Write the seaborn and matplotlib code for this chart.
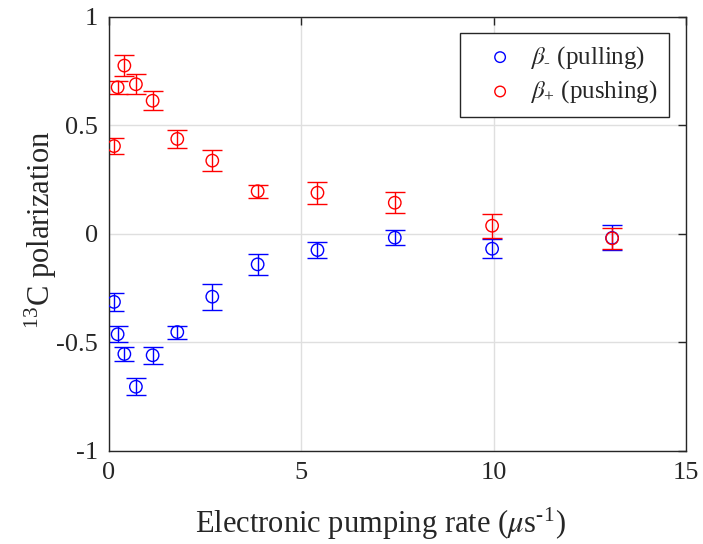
import numpy as np
import pandas as pd
import matplotlib
matplotlib.use("Agg")
import matplotlib.pyplot as plt
import seaborn as sns

# ---- data ----
rate = [0.13, 0.225, 0.40, 0.70, 1.135, 1.776, 2.686, 3.865, 5.42, 7.43, 9.96, 13.08]
pull_pol = [-0.313, -0.462, -0.553, -0.704, -0.559, -0.452, -0.289, -0.140, -0.074, -0.017, -0.068, -0.018]
pull_err = [0.041, 0.038, 0.031, 0.039, 0.038, 0.030, 0.060, 0.048, 0.038, 0.035, 0.043, 0.058]
push_pol = [0.405, 0.676, 0.776, 0.690, 0.614, 0.438, 0.338, 0.197, 0.190, 0.144, 0.038, -0.020]
push_err = [0.037, 0.031, 0.048, 0.045, 0.044, 0.043, 0.048, 0.029, 0.050, 0.048, 0.055, 0.047]
series_labels = ["$\\beta_{\\mathregular{\u2010}}$ (pulling)", "$\\beta_{\\mathregular{+}}$ (pushing)"]
series_colors = ["#0000ff", "#ff0000"]
x_ticks = [0, 5, 10, 15]
y_ticks = [-1, -0.5, 0, 0.5, 1]
y_ticklabels = ["-1", "-0.5", "0", "0.5", "1"]

df = pd.concat([
    pd.DataFrame({"rate": rate, "pol": pull_pol, "err": pull_err, "series": series_labels[0]}),
    pd.DataFrame({"rate": rate, "pol": push_pol, "err": push_err, "series": series_labels[1]}),
], ignore_index=True)

sns.set_style("white")
plt.rcParams["font.family"] = ["Liberation Serif", "DejaVu Serif"]
plt.rcParams["mathtext.fontset"] = "stix"

fig = plt.figure(figsize=(7.03, 5.44), dpi=100)
ax = fig.add_axes([0.155, 0.171, 0.8208, 0.7978])

for lab, col in zip(series_labels, series_colors):
    d = df[df["series"] == lab]
    ax.errorbar(d["rate"], d["pol"], yerr=d["err"], fmt="none", ecolor=col,
                elinewidth=1.0, capsize=7, capthick=1.0, zorder=2)
    sns.scatterplot(data=d, x="rate", y="pol", ax=ax, marker="o", s=80,
                    facecolor="none", edgecolor=col, linewidth=1.0,
                    label=lab, zorder=3)

ax.set_xlim(0, 15)
ax.set_ylim(-1, 1)
ax.set_xticks(x_ticks)
ax.set_yticks(y_ticks)
ax.set_yticklabels(y_ticklabels)
ax.grid(True, color="#dfdfdf", linewidth=1.0)
ax.set_axisbelow(True)
for s in ax.spines.values():
    s.set_visible(True)
    s.set_color("#262626")
    s.set_linewidth(1.0)
ax.tick_params(direction="in", length=6, width=1.0, colors="#262626",
               labelsize=19, top=True, right=True, pad=8)
ax.set_xlabel("Electronic pumping rate ($\\mu$s$^{\\mathregular{\u20101}}$)", fontsize=22,
              color="#262626")
ax.set_ylabel("$^{\\mathregular{13}}$C polarization", fontsize=22, color="#262626")
ax.xaxis.set_label_coords(0.47, -0.125)
ax.yaxis.set_label_coords(-0.086, 0.51)

leg = ax.legend(loc="upper right", bbox_to_anchor=(0.9705, 0.963), borderaxespad=0,
                fontsize=18, frameon=True, fancybox=False, edgecolor="#262626",
                framealpha=1, handletextpad=0.05, borderpad=0.45, labelspacing=0.3,
                markerscale=0.85, handlelength=2.3)
leg.get_frame().set_linewidth(1.0)

fig.savefig("out.png", dpi=100)
